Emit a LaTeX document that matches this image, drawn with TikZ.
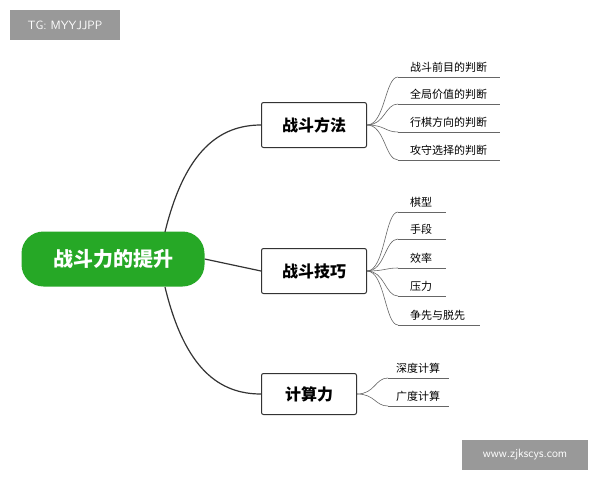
\documentclass[tikz,border=0pt]{standalone}
\usepackage{fontspec}
\newfontfamily\cjk{Noto Sans CJK SC}
\begin{document}
\begin{tikzpicture}[x=1pt,y=-1pt,
 branch/.style={draw=black!80,line width=1pt,rounded corners=2pt,minimum width=105pt,minimum height=45pt,font=\cjk\bfseries\fontsize{16}{18}\selectfont},
 leaf/.style={anchor=south west,inner xsep=12pt,inner ysep=4pt,font=\cjk\fontsize{11}{13}\selectfont,text width=#1,align=left},
 leaf/.default=80pt,
 conn/.style={draw=black!80,line width=1.2pt},
 fan/.style={draw=black!60,line width=0.6pt},
 wm/.style={fill=black!40,text=white,font=\sffamily\fontsize{12}{14}\selectfont,inner sep=0pt}]
\useasboundingbox (0,0) rectangle (600,480);
\fill[white] (0,0) rectangle (600,480);
\node[wm,minimum width=110pt,minimum height=30pt] (wm1) at (65,25) {TG: MYYJJPP};
\node[wm,minimum width=126pt,minimum height=30pt] (wm2) at (525,455) {www.zjkscys.com};
\node[fill=green!60!black!85,text=white,rounded corners=22pt,minimum width=183pt,minimum height=55pt,font=\cjk\bfseries\fontsize{20}{22}\selectfont] (root) at (113,259) {战斗力的提升};
\node[branch] (b1) at (314,125) {战斗方法};
\node[branch] (b2) at (314,271) {战斗技巧};
\node[branch,minimum width=95pt,minimum height=41pt] (b3) at (309,394) {计算力};
\draw[conn] (165,232) .. controls (185,150) and (220,125) .. (b1.west);
\draw[conn] (root.east) -- (b2.west);
\draw[conn] (165,287) .. controls (185,370) and (220,394) .. (b3.west);
\foreach \n/\y/\t in {a1/77/战斗前目的判断,a2/104/全局价值的判断,a3/132/行棋方向的判断,a4/160/攻守选择的判断}{
 \node[leaf=78pt] (\n) at (398,\y) {\t};
 \draw[fan] (\n.south west) -- (\n.south east);
 \draw[fan] (b1.east) .. controls (385,125) and (385,\y) .. (\n.south west);}
\foreach \n/\y/\t/\w in {c1/212/棋型/24pt,c2/239/手段/24pt,c3/268/效率/24pt,c4/296/压力/24pt,c5/325/争先与脱先/58pt}{
 \node[leaf=\w] (\n) at (398,\y) {\t};
 \draw[fan] (\n.south west) -- (\n.south east);
 \draw[fan] (b2.east) .. controls (385,271) and (385,\y) .. (\n.south west);}
\foreach \n/\y/\t in {d1/378/深度计算,d2/406/广度计算}{
 \node[leaf=45pt,inner xsep=8pt] (\n) at (388,\y) {\t};
 \draw[fan] (\n.south west) -- (\n.south east);
 \draw[fan] (b3.east) .. controls (375,394) and (375,\y) .. (\n.south west);}
\end{tikzpicture}
\end{document}
